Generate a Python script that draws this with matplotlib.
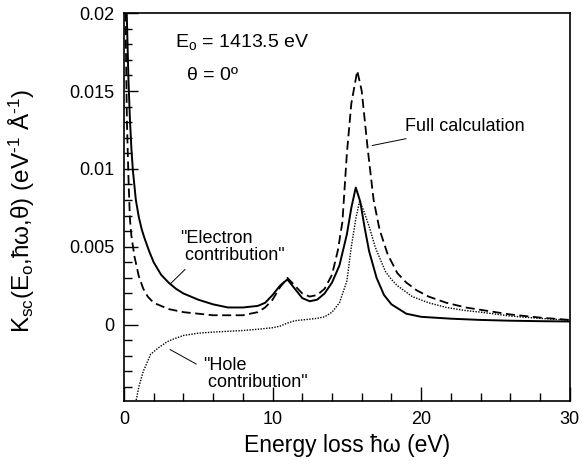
import matplotlib
matplotlib.use("Agg")
import matplotlib.pyplot as plt
from matplotlib.ticker import MultipleLocator

plt.rcParams['font.family'] = ['Liberation Sans', 'DejaVu Sans']
plt.rcParams['mathtext.fontset'] = 'custom'
plt.rcParams['mathtext.rm'] = 'Liberation Sans'
plt.rcParams['mathtext.it'] = 'Liberation Sans:italic'

# --- electron contribution (solid) ---
x_el = [0.15, 0.2, 0.3, 0.4, 0.5, 0.6, 0.8, 1.0, 1.2, 1.4, 1.7, 2.0, 2.5, 3.0, 3.5,
        4.0, 5.0, 6.0, 7.0, 8.0, 9.0, 9.5, 10.0, 10.5, 11.0, 11.5, 12.0, 12.5, 13.0,
        13.5, 14.0, 14.5, 15.0, 15.3, 15.6, 15.9, 16.2, 16.5, 17.0, 17.5, 18.0, 19.0,
        20.0, 22.0, 24.0, 26.0, 28.0, 30.0]
y_el = [0.0215, 0.0195, 0.0158, 0.0132, 0.0113, 0.0099, 0.0080, 0.0069, 0.0061, 0.0055,
        0.0047, 0.0040, 0.0032, 0.0027, 0.0023, 0.0020, 0.0016, 0.0013, 0.0011, 0.0011,
        0.0012, 0.0014, 0.0019, 0.0025, 0.0029, 0.0023, 0.0017, 0.0015, 0.0016, 0.0020,
        0.0027, 0.0038, 0.0058, 0.0075, 0.0088, 0.0079, 0.0062, 0.0047, 0.0030, 0.0019,
        0.0013, 0.0007, 0.0005, 0.00038, 0.0003, 0.00025, 0.00022, 0.0002]

# --- full calculation (dashed) ---
x_full = [0.05, 0.1, 0.2, 0.3, 0.4, 0.5, 0.7, 1.0, 1.3, 1.6, 2.0, 2.5, 3.0, 4.0, 5.0,
          6.0, 7.0, 8.0, 9.0, 9.5, 10.0, 10.5, 11.0, 11.5, 12.0, 12.5, 13.0, 13.5, 14.0,
          14.4, 14.7, 15.0, 15.3, 15.7, 16.0, 16.4, 16.8, 17.2, 17.75, 18.4, 19.0, 19.7,
          20.5, 21.7, 23.0, 24.0, 26.0, 28.0, 30.0]
y_full = [0.0215, 0.0200, 0.0130, 0.0095, 0.0068, 0.0057, 0.0044, 0.0031, 0.0023, 0.0018,
          0.0014, 0.0012, 0.0010, 0.0008, 0.0007, 0.0006, 0.0006, 0.0006, 0.0008, 0.0011,
          0.0016, 0.0024, 0.0030, 0.0025, 0.0020, 0.0018, 0.0019, 0.0023, 0.0032, 0.0048,
          0.0066, 0.0110, 0.0142, 0.0163, 0.0150, 0.0113, 0.0080, 0.0061, 0.0045, 0.0033,
          0.0027, 0.0022, 0.0018, 0.0014, 0.0011, 0.00095, 0.00065, 0.00045, 0.0003]

# --- hole contribution (dotted) ---
x_hole = [0.75, 1.0, 1.3, 1.8, 2.3, 2.9, 3.4, 4.0, 5.0, 6.0, 7.0, 8.0, 9.0, 10.0, 10.5,
          11.0, 11.5, 12.0, 12.5, 13.0, 13.5, 14.0, 14.5, 15.0, 15.3, 15.6, 15.85, 16.1,
          16.5, 16.9, 17.2, 17.6, 18.0, 18.4, 19.4, 20.5, 21.7, 23.0, 24.0, 26.0, 28.0, 30.0]
y_hole = [-0.0052, -0.0040, -0.0030, -0.0019, -0.0015, -0.0011, -0.0009, -0.0007, -0.00055,
          -0.00048, -0.00043, -0.00038, -0.0003, -0.0002, -0.0001, 0.0001, 0.00025, 0.0003,
          0.00035, 0.0004, 0.0005, 0.0008, 0.0014, 0.0028, 0.0050, 0.0068, 0.0079, 0.0074,
          0.0063, 0.0050, 0.0043, 0.0034, 0.0029, 0.0025, 0.0018, 0.0014, 0.0011, 0.0009,
          0.0008, 0.00055, 0.0004, 0.00028]

fig = plt.figure(figsize=(5.82, 4.70), dpi=100)
ax = fig.add_axes([0.213, 0.147, 0.766, 0.825])

ax.plot(x_el, y_el, color='black', lw=1.4, ls='-')
ax.plot(x_full, y_full, color='black', lw=1.3, ls=(0, (5, 2.5)))
ax.plot(x_hole, y_hole, color='black', lw=1.0, ls=(0, (1, 1)))

ax.set_xlim(0, 30)
ax.set_ylim(-0.0049, 0.02)
ax.xaxis.set_major_locator(MultipleLocator(10))
ax.xaxis.set_minor_locator(MultipleLocator(2))
ax.yaxis.set_minor_locator(MultipleLocator(0.001))
ax.set_yticks([0, 0.005, 0.01, 0.015, 0.02])
ax.set_yticklabels(['0', '0.005', '0.01', '0.015', '0.02'])
ax.tick_params(which='both', direction='in', labelsize=13, width=1.0)
ax.tick_params(which='major', length=10, pad=7)
ax.tick_params(which='minor', length=6)
for sp in ax.spines.values():
    sp.set_linewidth(1.2)

ax.set_xlabel('Energy loss \u0127\u03c9 (eV)', fontsize=16.5)
ax.xaxis.set_label_coords(0.5, -0.085)
ax.set_ylabel('K$_{\\rm sc}$(E$_{\\rm o}$,\u0127\u03c9,\u03b8) (eV$^{\u2010 1}$ \u00c5$^{\u2010 1}$)',
              fontsize=17.5)
ax.yaxis.set_label_coords(-0.195, 0.49)

ax.text(0.114, 0.925, 'E$_{\\rm o}$ = 1413.5 eV', transform=ax.transAxes, fontsize=14,
        va='center', ha='left')
ax.text(0.141, 0.84, '\u03b8 = 0\u00ba', transform=ax.transAxes, fontsize=14,
        va='center', ha='left')

ax.annotate('Full calculation', xy=(16.7, 0.0115), xytext=(18.9, 0.0127),
            fontsize=13, va='center', ha='left',
            arrowprops=dict(arrowstyle='-', lw=0.7, color='black', shrinkA=2, shrinkB=0))
ax.annotate('"Electron\n contribution"', xy=(3.1, 0.0026), xytext=(3.8, 0.0050),
            fontsize=13, va='center', ha='left', linespacing=1.0,
            arrowprops=dict(arrowstyle='-', lw=0.7, color='black', relpos=(0.1, 0.0),
                            shrinkA=3, shrinkB=0))
ax.annotate('"Hole\n contribution"', xy=(3.1, -0.0016), xytext=(5.3, -0.0032),
            fontsize=13, va='center', ha='left', linespacing=1.0,
            arrowprops=dict(arrowstyle='-', lw=0.7, color='black', relpos=(0.0, 0.7),
                            shrinkA=3, shrinkB=0))

fig.savefig('out.png', dpi=100)
